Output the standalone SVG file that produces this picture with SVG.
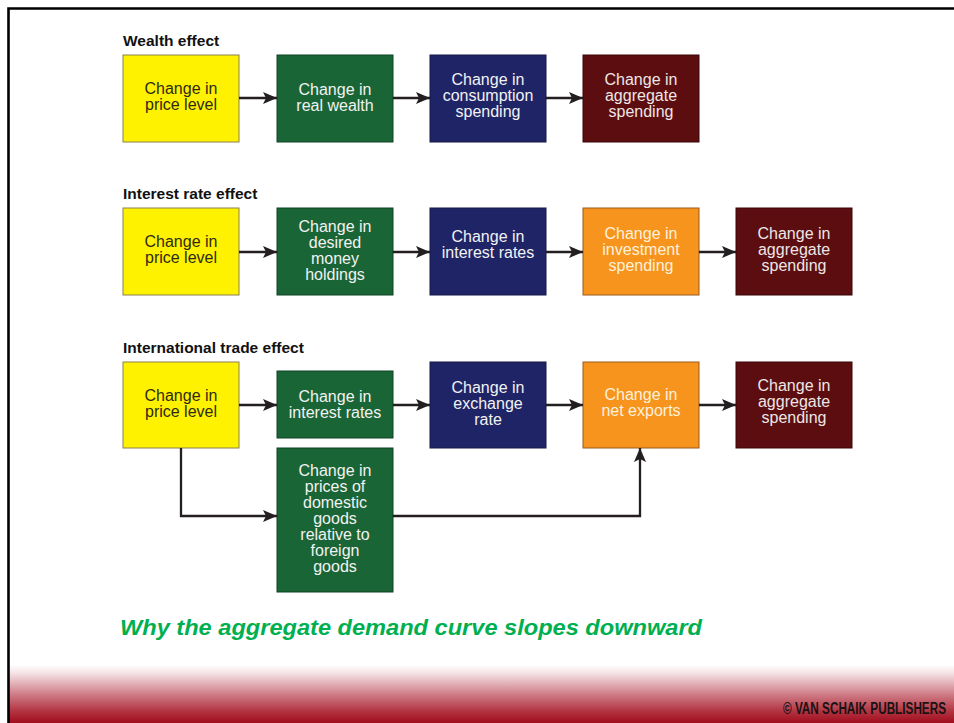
<svg xmlns="http://www.w3.org/2000/svg" width="954" height="723" viewBox="0 0 954 723">
<defs>
<linearGradient id="band" x1="0" y1="0" x2="0" y2="1">
<stop offset="0" stop-color="#ffffff"/>
<stop offset="0.15" stop-color="#f4e0e3"/>
<stop offset="0.5" stop-color="#cf7e88"/>
<stop offset="0.8" stop-color="#b23341"/>
<stop offset="1" stop-color="#a10d1d"/>
</linearGradient>
<marker id="ah" markerUnits="userSpaceOnUse" markerWidth="15" markerHeight="12" refX="14" refY="6" orient="auto" viewBox="0 0 15 12">
<path d="M0,0 L14,6 L0,12 L3,6 Z" fill="#231f20"/>
</marker>
<style>
.title{font-family:"Liberation Sans",Arial,sans-serif;font-weight:bold;font-size:15.5px;fill:#111}
.lbl{font-family:"Liberation Sans",Arial,sans-serif;font-size:16px;text-anchor:middle}
.yel rect{fill:#fff200;stroke:#8a8150;stroke-width:1}
.yel text{fill:#2e2a14}
.grn rect{fill:#1a6536;stroke:#0f4424;stroke-width:1}
.grn text{fill:#f2f2f2}
.nav rect{fill:#1f2467;stroke:#141848;stroke-width:1}
.nav text{fill:#f2f2f2}
.org rect{fill:#f7941e;stroke:#9a5a1a;stroke-width:1}
.org text{fill:#fdf1dc}
.mar rect{fill:#5b0d0f;stroke:#3a0608;stroke-width:1}
.mar text{fill:#eee6e6}
.con path{fill:none;stroke:#231f20;stroke-width:2.3;marker-end:url(#ah)}
</style>
</defs>
<rect x="0" y="0" width="954" height="723" fill="#ffffff"/>
<rect x="9" y="665" width="945" height="58" fill="url(#band)"/>
<path d="M8.5,723 V8.5 H954" fill="none" stroke="#000" stroke-width="2.6"/>

<text class="title" x="123" y="46">Wealth effect</text>
<text class="title" x="123" y="199">Interest rate effect</text>
<text class="title" x="123" y="353">International trade effect</text>

<!-- Row 1 -->
<g id="w1" class="yel"><rect x="123" y="55" width="116" height="87"/><text class="lbl"><tspan x="181" y="94">Change in</tspan><tspan x="181" y="110">price level</tspan></text></g>
<g id="w2" class="grn"><rect x="277" y="55" width="116" height="87"/><text class="lbl"><tspan x="335" y="95">Change in</tspan><tspan x="335" y="111">real wealth</tspan></text></g>
<g id="w3" class="nav"><rect x="430" y="55" width="116" height="87"/><text class="lbl"><tspan x="488" y="85">Change in</tspan><tspan x="488" y="101">consumption</tspan><tspan x="488" y="117">spending</tspan></text></g>
<g id="w4" class="mar"><rect x="583" y="55" width="116" height="87"/><text class="lbl"><tspan x="641" y="85">Change in</tspan><tspan x="641" y="101">aggregate</tspan><tspan x="641" y="117">spending</tspan></text></g>

<!-- Row 2 -->
<g id="i1" class="yel"><rect x="123" y="208" width="116" height="87"/><text class="lbl"><tspan x="181" y="247">Change in</tspan><tspan x="181" y="263">price level</tspan></text></g>
<g id="i2" class="grn"><rect x="277" y="208" width="116" height="87"/><text class="lbl"><tspan x="335" y="232">Change in</tspan><tspan x="335" y="248">desired</tspan><tspan x="335" y="264">money</tspan><tspan x="335" y="280">holdings</tspan></text></g>
<g id="i3" class="nav"><rect x="430" y="208" width="116" height="87"/><text class="lbl"><tspan x="488" y="242">Change in</tspan><tspan x="488" y="258">interest rates</tspan></text></g>
<g id="i4" class="org"><rect x="583" y="208" width="116" height="87"/><text class="lbl"><tspan x="641" y="239">Change in</tspan><tspan x="641" y="255">investment</tspan><tspan x="641" y="271">spending</tspan></text></g>
<g id="i5" class="mar"><rect x="736" y="208" width="116" height="87"/><text class="lbl"><tspan x="794" y="239">Change in</tspan><tspan x="794" y="255">aggregate</tspan><tspan x="794" y="271">spending</tspan></text></g>

<!-- Row 3 -->
<g id="t1" class="yel"><rect x="123" y="362" width="116" height="86"/><text class="lbl"><tspan x="181" y="401">Change in</tspan><tspan x="181" y="417">price level</tspan></text></g>
<g id="t2" class="grn"><rect x="277" y="371" width="116" height="67"/><text class="lbl"><tspan x="335" y="402">Change in</tspan><tspan x="335" y="418">interest rates</tspan></text></g>
<g id="t3" class="nav"><rect x="430" y="362" width="116" height="86"/><text class="lbl"><tspan x="488" y="393">Change in</tspan><tspan x="488" y="409">exchange</tspan><tspan x="488" y="425">rate</tspan></text></g>
<g id="t4" class="org"><rect x="583" y="362" width="116" height="86"/><text class="lbl"><tspan x="641" y="400">Change in</tspan><tspan x="641" y="416">net exports</tspan></text></g>
<g id="t5" class="mar"><rect x="736" y="362" width="116" height="86"/><text class="lbl"><tspan x="794" y="391">Change in</tspan><tspan x="794" y="407">aggregate</tspan><tspan x="794" y="423">spending</tspan></text></g>
<g id="t6" class="grn"><rect x="277" y="448" width="116" height="144"/><text class="lbl"><tspan x="335" y="476">Change in</tspan><tspan x="335" y="492">prices of</tspan><tspan x="335" y="508">domestic</tspan><tspan x="335" y="524">goods</tspan><tspan x="335" y="540">relative to</tspan><tspan x="335" y="556">foreign</tspan><tspan x="335" y="572">goods</tspan></text></g>

<g id="connectors" class="con">
<path d="M239,98 H277"/>
<path d="M393,98 H430"/>
<path d="M546,98 H583"/>
<path d="M239,252 H277"/>
<path d="M393,252 H430"/>
<path d="M546,252 H583"/>
<path d="M699,252 H736"/>
<path d="M239,405 H277"/>
<path d="M393,405 H430"/>
<path d="M546,405 H583"/>
<path d="M699,405 H736"/>
<path d="M181,448 V516 H277"/>
<path d="M393,516 H640 V448"/>
</g>

<text x="120" y="635" font-family="'Liberation Sans',Arial,sans-serif" font-weight="bold" font-style="italic" font-size="22" fill="#00b050" textLength="582" lengthAdjust="spacingAndGlyphs">Why the aggregate demand curve slopes downward</text>
<text x="783" y="714" font-family="'Liberation Sans',Arial,sans-serif" font-weight="bold" font-size="16" fill="#1a1214" textLength="163" lengthAdjust="spacingAndGlyphs">© VAN SCHAIK PUBLISHERS</text>
</svg>
